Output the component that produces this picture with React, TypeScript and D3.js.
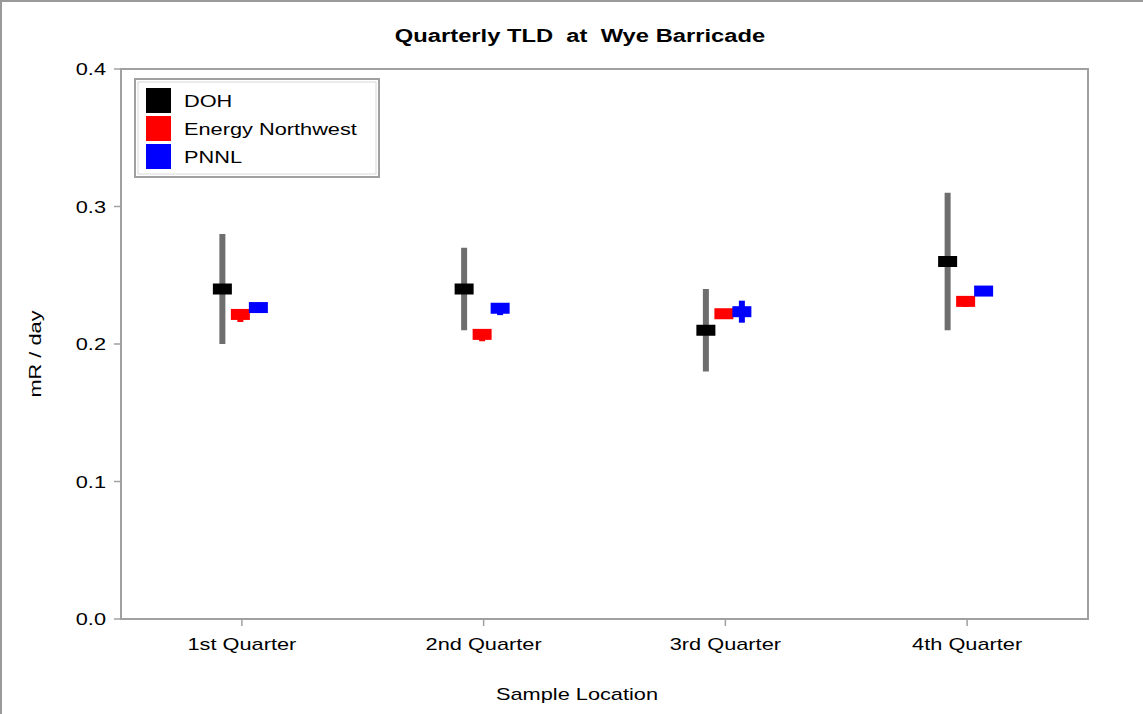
import React from "react";
import * as d3 from "d3";

const categories = ["1st Quarter", "2nd Quarter", "3rd Quarter", "4th Quarter"];
const seriesNames = ["DOH", "Energy Northwest", "PNNL"];
const seriesColors = ["#000000", "#ff0000", "#0000ff"];
const barColors = ["#6e6e6e", "#ff0000", "#0000ff"];

const dohValues = [0.24, 0.24, 0.21, 0.26];
const dohLow = [0.2, 0.21, 0.18, 0.21];
const dohHigh = [0.28, 0.27, 0.24, 0.31];

const enValues = [0.2215, 0.207, 0.222, 0.231];
const enLow = [0.216, 0.202, 0.219, 0.227];
const enHigh = [0.225, 0.21, 0.225, 0.234];

const pnnlValues = [0.2265, 0.226, 0.2235, 0.2385];
const pnnlLow = [0.224, 0.221, 0.2155, 0.236];
const pnnlHigh = [0.229, 0.229, 0.2315, 0.241];

const yTicks = [0.0, 0.1, 0.2, 0.3, 0.4];

const W = 1143;
const H = 714;
const left = 121;
const right = 1088;
const top = 69;
const bottom = 619;
const SX = 1.28;

function Txt(props: {
  x: number;
  y: number;
  size: number;
  anchor?: string;
  bold?: boolean;
  sx?: number;
  rotate?: number;
  children: React.ReactNode;
}) {
  const { x, y, size, anchor = "start", bold = false, sx = SX, rotate = 0 } = props;
  return (
    <text
      transform={`translate(${x},${y}) rotate(${rotate}) scale(${sx},1)`}
      textAnchor={anchor}
      fontSize={size}
      fontWeight={bold ? "bold" : "normal"}
      fill="#000"
      style={{ whiteSpace: "pre" }}
    >
      {props.children}
    </text>
  );
}

export default function App() {
  const x = d3.scaleBand<string>().domain(categories).range([left, right]);
  const y = d3.scaleLinear().domain([0, 0.4]).range([bottom, top]);
  const sub = d3.scalePoint<string>().domain(seriesNames).range([-19.5, 16.5]);

  const all = [
    { values: dohValues, low: dohLow, high: dohHigh },
    { values: enValues, low: enLow, high: enHigh },
    { values: pnnlValues, low: pnnlLow, high: pnnlHigh },
  ];
  const font = "Arial, 'Liberation Sans', sans-serif";
  const mw = 19;
  const mh = 11;
  const frame = "#a0a0a0";

  return (
    <svg width={W} height={H} style={{ position: "absolute", left: 0, top: 0, background: "#fff" }} fontFamily={font}>
      <rect x={0} y={0} width={W} height={H} fill="#fff" />
      <line x1={1} y1={0} x2={1} y2={H} stroke="#9a9a9a" strokeWidth={2} />
      <line x1={0} y1={1} x2={W} y2={1} stroke="#9a9a9a" strokeWidth={2} />
      <Txt x={580} y={42} size={18} bold anchor="middle" sx={1.32}>
        {"Quarterly TLD  at  Wye Barricade"}
      </Txt>
      {/* y ticks */}
      {yTicks.map((t) => (
        <g key={t}>
          <line x1={left - 7} x2={left} y1={y(t)} y2={y(t)} stroke={frame} strokeWidth={1.5} />
          <Txt x={left - 15} y={y(t) + 6} size={17} anchor="end">
            {t.toFixed(1)}
          </Txt>
        </g>
      ))}
      {/* x ticks */}
      {categories.map((c) => {
        const cx = x(c)! + x.bandwidth() / 2;
        return (
          <g key={c}>
            <line x1={cx} x2={cx} y1={bottom} y2={bottom + 7} stroke={frame} strokeWidth={1.5} />
            <Txt x={cx} y={bottom + 31} size={17} anchor="middle">
              {c}
            </Txt>
          </g>
        );
      })}
      <rect x={left} y={top} width={right - left} height={bottom - top} fill="none" stroke={frame} strokeWidth={2} />
      <Txt x={577} y={700} size={17} anchor="middle">
        Sample Location
      </Txt>
      <Txt x={41} y={354} size={17} anchor="middle" rotate={-90}>
        mR / day
      </Txt>
      {/* data */}
      {seriesNames.map((s, si) => (
        <g key={s}>
          {categories.map((c, ci) => {
            const cx = x(c)! + x.bandwidth() / 2 + sub(s)!;
            const d = all[si];
            return (
              <g key={c}>
                <rect
                  x={cx - 3}
                  y={y(d.high[ci])}
                  width={6}
                  height={y(d.low[ci]) - y(d.high[ci])}
                  fill={barColors[si]}
                />
                <rect x={cx - mw / 2} y={y(d.values[ci]) - mh / 2} width={mw} height={mh} fill={seriesColors[si]} />
              </g>
            );
          })}
        </g>
      ))}
      {/* legend */}
      <rect x={135} y={79} width={244} height={98} fill="#fff" stroke={frame} strokeWidth={2} />
      <rect x={138} y={82} width={238} height={92} fill="none" stroke="#d8d8d8" strokeWidth={1} />
      {seriesNames.map((s, i) => (
        <g key={s}>
          <rect x={146} y={88 + i * 28} width={25} height={25} fill={seriesColors[i]} />
          <Txt x={184} y={107 + i * 28} size={17}>
            {s}
          </Txt>
        </g>
      ))}
    </svg>
  );
}
